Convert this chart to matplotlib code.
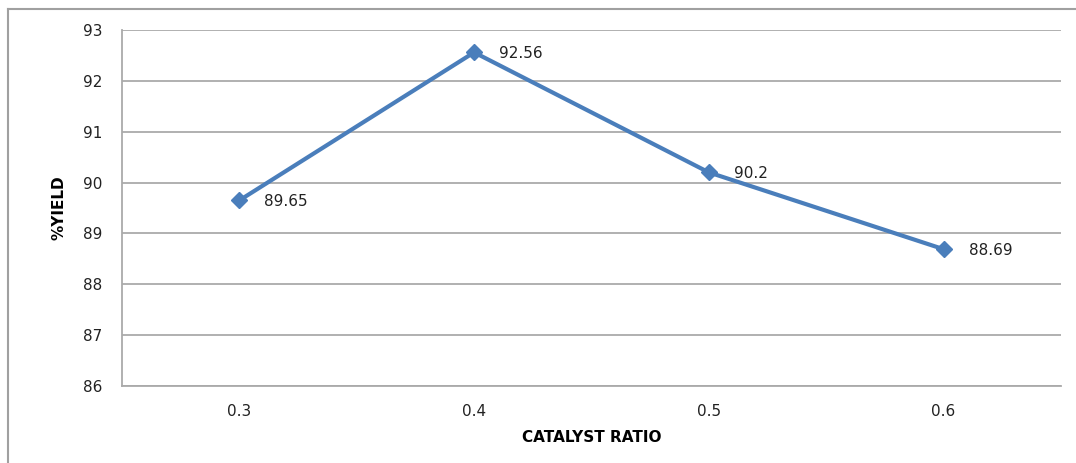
import matplotlib.pyplot as plt
from matplotlib.lines import Line2D

ratio = ['0.3', '0.4', '0.5', '0.6']
yield_pct = [89.65, 92.56, 90.2, 88.69]
point_labels = ['89.65', '92.56', '90.2', '88.69']

plt.rcParams['font.family'] = 'DejaVu Sans'

fig = plt.figure(figsize=(10.76, 4.63), dpi=100)
ax = fig.add_axes([122 / 1076, 1 - 386 / 463, (1061 - 122) / 1076, (386 - 30) / 463])

x = list(range(len(ratio)))
ax.plot(x, yield_pct, color='#4a7ebb', lw=3, marker='D', ms=8, zorder=3)
for xi, yi, lab in zip(x, yield_pct, point_labels):
    ax.annotate(lab, (xi, yi), xytext=(18, -1), textcoords='offset points',
                va='center', ha='left', fontsize=11, color='#222222')

ax.set_xlim(-0.5, len(ratio) - 0.5)
ax.set_ylim(86, 93)
ax.set_xticks(x)
ax.set_xticklabels(ratio)
ax.set_yticks(range(86, 94))
ax.tick_params(axis='both', length=0, labelsize=11, colors='#222222')
ax.tick_params(axis='y', pad=14)
ax.tick_params(axis='x', pad=13)
ax.grid(axis='y', color='#aaaaaa', lw=1.3)
ax.set_axisbelow(True)
for s in ['top', 'right']:
    ax.spines[s].set_visible(False)
for s in ['left', 'bottom']:
    ax.spines[s].set_color('#aaaaaa')
    ax.spines[s].set_linewidth(1.3)

ax.set_xlabel('CATALYST RATIO', fontsize=11, fontweight='bold', labelpad=8)
ax.set_ylabel('%YIELD', fontsize=11, fontweight='bold', labelpad=12)

# outer chart border
fig.add_artist(Line2D([8 / 1076, 1], [1 - 9 / 463, 1 - 9 / 463], color='#a0a0a0', lw=1.5))
fig.add_artist(Line2D([8 / 1076, 8 / 1076], [0, 1 - 9 / 463], color='#a0a0a0', lw=1.5))

fig.savefig('out.png', dpi=100)
